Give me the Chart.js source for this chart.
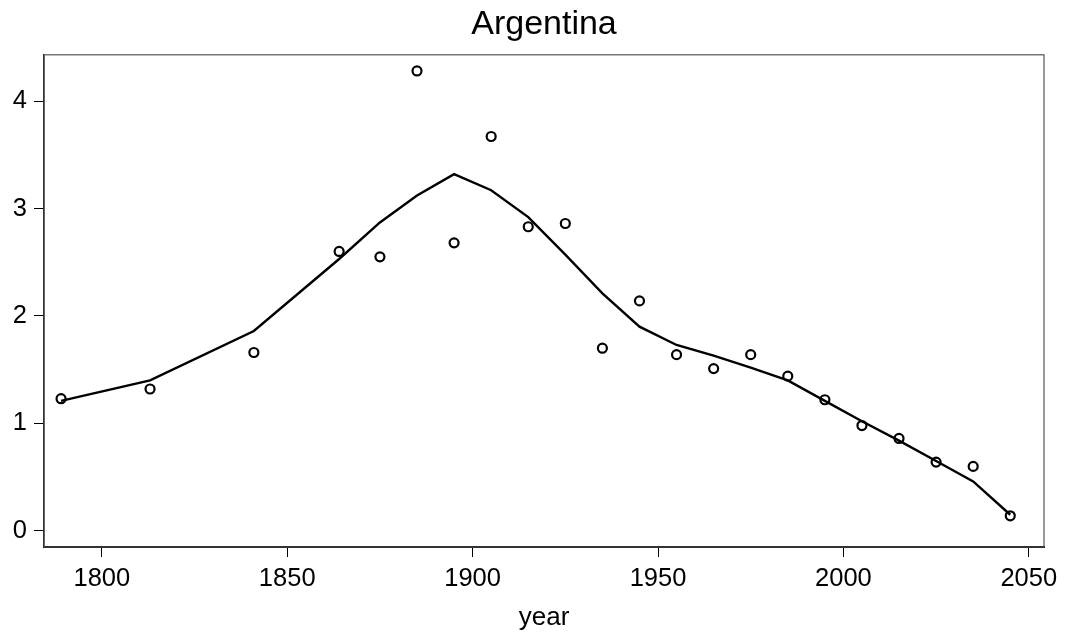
<!DOCTYPE html>
<html>
<head>
<meta charset="utf-8">
<title>Argentina</title>
<script src="https://cdn.jsdelivr.net/npm/chart.js@4/dist/chart.umd.min.js"></script>
<style>
  html, body { margin: 0; padding: 0; background: #fff; }
  #wrap { width: 1067px; height: 635px; position: relative; }
</style>
</head>
<body>
<div id="wrap"><canvas id="chart"></canvas></div>
<script>
const years = [1789, 1813, 1841, 1864, 1875, 1885, 1895, 1905, 1915, 1925, 1935,
  1945, 1955, 1965, 1975, 1985, 1995, 2005, 2015, 2025, 2035, 2045];
const observed = [1.23, 1.32, 1.66, 2.60, 2.55, 4.28, 2.68, 3.67, 2.83, 2.86, 1.70,
  2.14, 1.64, 1.51, 1.64, 1.44, 1.22, 0.98, 0.86, 0.64, 0.60, 0.14];
const smoothed = [1.21, 1.40, 1.86, 2.53, 2.87, 3.12, 3.32, 3.17, 2.92, 2.57, 2.21,
  1.90, 1.73, 1.63, 1.52, 1.40, 1.21, 1.02, 0.84, 0.65, 0.46, 0.15];
const xTicks = [1800, 1850, 1900, 1950, 2000, 2050];
const yTicks = [0, 1, 2, 3, 4];

const fontFamily = '"Liberation Sans", Arial, sans-serif';

// thin grey box round the plot, axes draw over left/bottom
const frame = {
  id: 'frame',
  beforeDatasetsDraw(chart) {
    const { ctx, chartArea: a } = chart;
    ctx.save();
    ctx.strokeStyle = '#555';
    ctx.lineWidth = 1.2;
    ctx.strokeRect(a.left, a.top, a.right - a.left, a.bottom - a.top);
    ctx.restore();
  }
};

new Chart(document.getElementById('chart'), {
  type: 'scatter',
  data: {
    datasets: [{
      type: 'line',
      data: years.map((x, i) => ({ x, y: smoothed[i] })),
      borderColor: '#000',
      borderWidth: 2.4,
      pointRadius: 0,
      tension: 0,
      fill: false
    }, {
      data: years.map((x, i) => ({ x, y: observed[i] })),
      borderColor: '#000',
      backgroundColor: 'rgba(0,0,0,0)',
      borderWidth: 2.2,
      pointRadius: 4.5,
      pointStyle: 'circle'
    }]
  },
  options: {
    responsive: true,
    maintainAspectRatio: false,
    animation: false,
    layout: { padding: { left: 0, right: 23, top: 0, bottom: 0 } },
    scales: {
      x: {
        type: 'linear',
        min: 1784.4,
        max: 2054.1,
        afterBuildTicks(scale) { scale.ticks = xTicks.map((value) => ({ value })); },
        afterFit(scale) { scale.height = 88; },
        border: { display: true, color: '#000', width: 2 },
        grid: { drawOnChartArea: false, drawTicks: true, tickLength: 10, tickColor: '#000', tickWidth: 1 },
        ticks: {
          color: '#000',
          padding: 7,
          maxRotation: 0,
          font: { family: fontFamily, size: 25.5 },
          callback(value) { return String(value); }
        },
        title: { display: true, text: 'year', color: '#000', padding: { top: 7, bottom: 2 }, font: { family: fontFamily, size: 26 } }
      },
      y: {
        type: 'linear',
        min: -0.15,
        max: 4.43,
        afterBuildTicks(scale) { scale.ticks = yTicks.map((value) => ({ value })); },
        afterFit(scale) { scale.width = 44; },
        border: { display: true, color: '#000', width: 1.5 },
        grid: { drawOnChartArea: false, drawTicks: true, tickLength: 10, tickColor: '#000', tickWidth: 1 },
        ticks: {
          color: '#000',
          padding: 7,
          font: { family: fontFamily, size: 25.5 },
          callback(value) { return String(value); }
        }
      }
    },
    plugins: {
      legend: { display: false },
      tooltip: { enabled: false },
      title: {
        display: true,
        text: 'Argentina',
        color: '#000',
        fullSize: false,
        padding: { top: 4, bottom: 10 },
        font: { family: fontFamily, size: 34, weight: 'normal' }
      }
    }
  },
  plugins: [frame]
});
</script>
</body>
</html>
